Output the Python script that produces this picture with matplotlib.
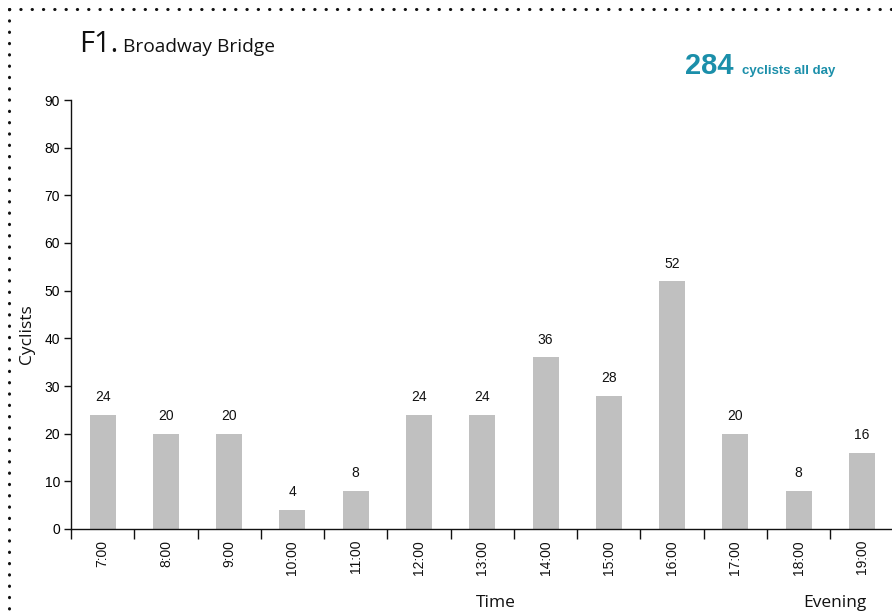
import matplotlib
matplotlib.use("Agg")
import matplotlib.pyplot as plt
from matplotlib.lines import Line2D
import numpy as np

categories = ["7:00", "8:00", "9:00", "10:00", "11:00", "12:00", "13:00",
              "14:00", "15:00", "16:00", "17:00", "18:00", "19:00"]
values = [24, 20, 20, 4, 8, 24, 24, 36, 28, 52, 20, 8, 16]
yticks = [0, 10, 20, 30, 40, 50, 60, 70, 80, 90]
total = 284

W, H = 892, 613
fig = plt.figure(figsize=(W / 100, H / 100), dpi=100)

ax_left = 71 / W
ax_right = 893.6 / W
ax_bottom = 1 - 529 / H
ax_top = 1 - 100 / H
ax = fig.add_axes([ax_left, ax_bottom, ax_right - ax_left, ax_top - ax_bottom])

x = np.arange(len(categories))
bar_color = "#C0C0C0"
ax.bar(x, values, width=0.41, color=bar_color, zorder=2)
for xi, v in zip(x, values):
    ax.text(xi, v + 2.2, str(v), ha="center", va="bottom",
            fontsize=10, family="Liberation Sans", color="#111111")

ax.set_xlim(-0.5, len(categories) - 0.5)
ax.set_ylim(0, 90)
ax.set_yticks(yticks)
ax.set_yticklabels([str(t) for t in yticks], family="Liberation Sans", fontsize=10)

# x ticks between categories; labels at category centers
ax.set_xticks(np.arange(-0.5, len(categories) - 0.5, 1.0))
ax.set_xticklabels([])
ax.tick_params(axis="x", direction="out", length=7, width=1, color="#111111")
ax.tick_params(axis="y", direction="out", length=5, width=1, color="#111111", pad=3)
for xi, c in zip(x, categories):
    ax.text(xi, -2.3, c, rotation=90, ha="center", va="top",
            fontsize=10, family="Liberation Sans", color="#111111")

for s in ["top", "right"]:
    ax.spines[s].set_visible(False)
ax.spines["left"].set_linewidth(1)
ax.spines["bottom"].set_linewidth(1)
ax.spines["left"].set_color("#111111")
ax.spines["bottom"].set_color("#111111")

# axis titles
fig.text(27 / W, 1 - 334 / H, "Cyclists", rotation=90, ha="center", va="center",
         fontsize=12.5, family="Open Sans", color="#111111")
fig.text(496 / W, 1 - 603 / H, "Time", ha="center", va="center",
         fontsize=12.5, family="Open Sans", color="#111111")
fig.text(835 / W, 1 - 603 / H, "Evening", ha="center", va="center",
         fontsize=12.5, family="Open Sans", color="#111111")

# title
fig.text(79 / W, 1 - 52 / H, "F1.", ha="left", va="baseline",
         fontsize=21, family="Open Sans", color="#111111")
fig.text(123 / W, 1 - 52 / H, "Broadway Bridge", ha="left", va="baseline",
         fontsize=13.8, family="Open Sans", color="#111111")

# total annotation
teal = "#1B8FAA"
fig.text(685 / W, 1 - 74 / H, str(total), ha="left", va="baseline",
         fontsize=21, family="Liberation Sans", weight="bold", color=teal)
fig.text(742 / W, 1 - 74 / H, "cyclists all day", ha="left", va="baseline",
         fontsize=9.5, family="Liberation Sans", weight="bold", color=teal)

# dotted border (top and left)
top_y = 1 - 8.5 / H
left_x = 8.5 / W
fig.add_artist(Line2D([left_x, 1.0], [top_y, top_y], transform=fig.transFigure,
                      linestyle=(0, (0.1, 3.6)), linewidth=2.2, color="#111111",
                      dash_capstyle="round"))
fig.add_artist(Line2D([left_x, left_x], [top_y, 0.0], transform=fig.transFigure,
                      linestyle=(0, (0.1, 3.6)), linewidth=2.2, color="#111111",
                      dash_capstyle="round"))

fig.savefig("out.png", dpi=100)
